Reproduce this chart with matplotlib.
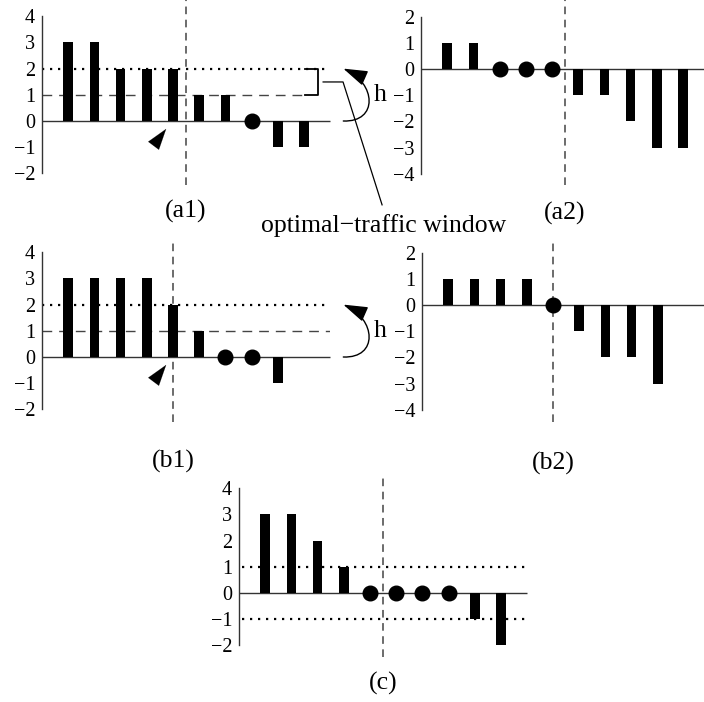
import numpy as np
import matplotlib
matplotlib.use("Agg")
import matplotlib.pyplot as plt
from matplotlib.patches import FancyArrowPatch
from matplotlib.path import Path

plt.rcParams['font.family'] = ['Liberation Serif', 'DejaVu Serif']
plt.rcParams['axes.unicode_minus'] = True

# panel data: one value per slot, slots 1..n
a1_vals = [3, 3, 2, 2, 2, 1, 1, 0, -1, -1]
a2_vals = [1, 1, 0, 0, 0, -1, -1, -2, -3, -3]
b1_vals = [3, 3, 3, 3, 2, 1, 0, 0, -1]
b2_vals = [1, 1, 1, 1, 0, -1, -2, -2, -3]
c_vals = [3, 3, 2, 1, 0, 0, 0, 0, -1, -2]

a1_ticks = [-2, -1, 0, 1, 2, 3, 4]
a2_ticks = [-4, -3, -2, -1, 0, 1, 2]
c_ticks = [-2, -1, 0, 1, 2, 3, 4]

W, H = 704, 702
U = 26.2  # pixels per unit, same on both axes

fig = plt.figure(figsize=(W / 100, H / 100), dpi=100)

AX_COL = '#333333'
DASH_COL = '#444444'


def panel(ox, oy, top_px, bot_px, vals, ticks, split, label, label_y):
    ax = fig.add_axes([ox / W, 1 - bot_px / H, 11 * U / W, (bot_px - top_px) / H])
    ax.set_xlim(0, 11)
    ax.set_ylim((oy - bot_px) / U, (oy - top_px) / U)
    ax.patch.set_visible(False)
    for s in ['top', 'right', 'bottom']:
        ax.spines[s].set_visible(False)
    ax.spines['left'].set_bounds(ticks[0], ticks[-1])
    ax.spines['left'].set_color(AX_COL)
    ax.spines['left'].set_linewidth(1.0)
    ax.set_xticks([])
    ax.set_yticks(ticks)
    ax.tick_params(axis='y', length=0, pad=5, labelsize=14.5)

    x = np.arange(1, len(vals) + 1)
    v = np.array(vals)
    nz = v != 0
    ax.hlines(0, 0, 11, color=AX_COL, lw=1.0, clip_on=False, zorder=2)
    ax.bar(x[nz], v[nz], width=0.36, color='black', zorder=3)
    ax.plot(x[~nz], v[~nz], 'o', ms=10.5, color='black', clip_on=False, zorder=4)
    ax.axvline(split, color=DASH_COL, lw=1.1, ls=(0, (5, 3.6)), zorder=1)
    ax.text(split, label_y, label, ha='center', va='center', fontsize=18.5, clip_on=False)
    return ax


def windows(ax, dash_end):
    ax.hlines(2, 0, 11, color='black', lw=1.6, ls=(0, (1, 2.6)), zorder=1)
    ax.hlines(1, 0, dash_end, color=DASH_COL, lw=1.0, ls=(0, (7, 5)), zorder=1)
    # small pointer near the split
    ax.annotate('', xy=(4.74, -0.30), xytext=(4.26, -0.94),
                arrowprops=dict(arrowstyle='-|>,head_length=1.0,head_width=0.32',
                                color='black', lw=0.1, shrinkA=0, shrinkB=0,
                                mutation_scale=15),
                annotation_clip=False)
    # curved "h" arrow from the zero line up to the optimal level
    cx = 11.5
    arc = Path([(cx, 0.0), (cx + 1.35, -0.05), (cx + 1.25, 1.45), (cx, 2.0)],
               [Path.MOVETO, Path.CURVE4, Path.CURVE4, Path.CURVE4])
    ax.add_patch(FancyArrowPatch(path=arc, transform=ax.transData,
                                 arrowstyle='-|>,head_length=1.0,head_width=0.32',
                                 mutation_scale=15, color='black', lw=1.0,
                                 clip_on=False))
    ax.text(12.9, 1.0, 'h', ha='center', va='center', fontsize=18.5, clip_on=False)


a1 = panel(42, 121, 0, 185, a1_vals, a1_ticks, 5.5, '(a1)', -3.47)
a2 = panel(421, 69, 0, 185, a2_vals, a2_ticks, 5.5, '(a2)', -5.5)
b1 = panel(42, 357, 240, 422, b1_vals, a1_ticks, 5.0, '(b1)', -4.0)
b2 = panel(422, 305, 240, 422, b2_vals, a2_ticks, 5.0, '(b2)', -6.05)
c = panel(239, 593, 475, 657, c_vals, c_ticks, 5.5, '(c)', -3.44)

windows(a1, 10.1)
windows(b1, 11)

# bracket marking the optimal-traffic window in (a1)
a1.plot([10.04, 10.53, 10.53, 10.04], [2, 2, 1, 1], color='black', lw=1.3, clip_on=False)
a1.plot([10.73, 11.49, 12.98], [1.49, 1.49, -3.2], color='black', lw=0.9, clip_on=False)
a1.text(13.05, -4.0, 'optimal\u2212traffic window', ha='center', va='center',
        fontsize=18.5, clip_on=False)

# (c): window bounds at +1 and -1
c.hlines([1, -1], 0.1, 11, color='black', lw=1.6, ls=(0, (1, 2.6)), zorder=1)

fig.savefig('out.png', dpi=100)
